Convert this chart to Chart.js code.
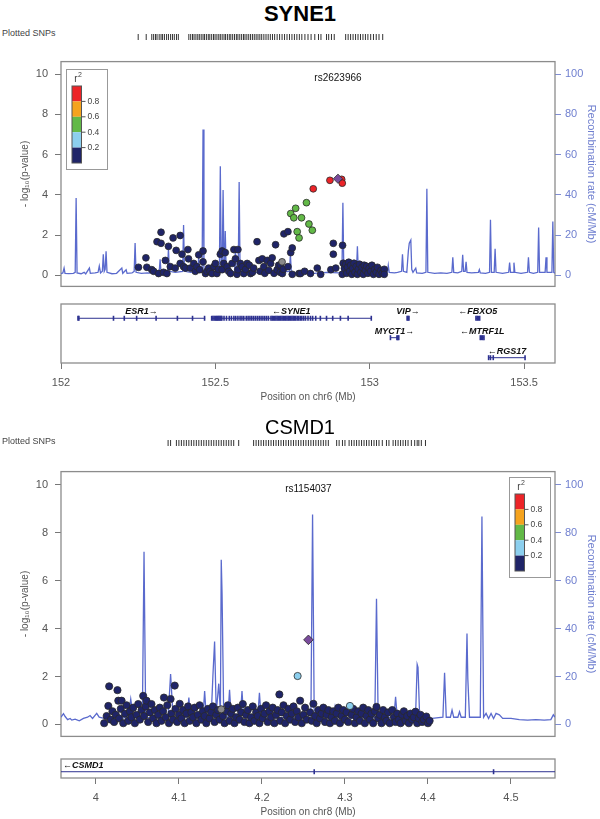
<!DOCTYPE html>
<html>
<head>
<meta charset="utf-8">
<script src="https://cdn.jsdelivr.net/npm/chart.js@4.4.0/dist/chart.umd.min.js"></script>
<style>
    body { margin: 0; background: #fff; width: 600px; height: 819px; position: relative; overflow: hidden; font-family: "Liberation Sans", Arial, sans-serif; }
    canvas, .t { position: absolute; left: 0; }
    .title { width: 600px; text-align: center; color: #000; line-height: 23px; }
    .rugLbl { left: 2px; font-size: 9px; line-height: 11px; color: #444; }
</style>
</head>
<body>
<div class="t title" style="top:2px;font-size:22px;font-weight:bold;">SYNE1</div>
<div class="t rugLbl" style="top:28px">Plotted SNPs</div>
<canvas id="rugTop" width="600" height="20" style="top:27px"></canvas>
<canvas id="mainTop" width="600" height="252" style="top:48px"></canvas>
<canvas id="geneTop" width="600" height="110" style="top:296px"></canvas>

<div class="t title" style="top:416px;font-size:20px;">CSMD1</div>
<div class="t rugLbl" style="top:436px">Plotted SNPs</div>
<canvas id="rugBot" width="600" height="20" style="top:433px"></canvas>
<canvas id="mainBot" width="600" height="292" style="top:458px"></canvas>
<canvas id="geneBot" width="600" height="68" style="top:751px"></canvas>

<script>
// ---- shared ----
const r2Colors = ['#1f2468', '#8ccfee', '#62b947', '#f5a31e', '#ec2428'];
const r2Labels = ['0.2', '0.4', '0.6', '0.8'];
const pTicks = [0, 2, 4, 6, 8, 10];
const recombTicks = [0, 20, 40, 60, 80, 100];

// ---- SYNE1 (chr6) ----
const topRange = [152, 153.6];
const topXTicks = [152, 152.5, 153, 153.5];
const topLead = { name: 'rs2623966', pos: 152.897, logp: 4.80 };
const topNavy = [
    [152.251,0.40],[152.275,0.87],[152.278,0.40],[152.294,0.28],[152.300,0.20],[152.311,1.67],[152.316,0.09],
    [152.324,2.14],[152.324,1.59],[152.332,0.15],[152.338,0.74],[152.343,0.09],[152.348,1.44],[152.354,0.43],
    [152.363,1.86],[152.370,0.36],[152.373,1.24],[152.386,1.98],[152.386,0.59],[152.392,1.05],[152.397,0.43],
    [152.403,0.36],[152.411,1.28],[152.413,0.82],[152.419,0.36],[152.430,0.59],[152.435,0.20],[152.440,0.43],
    [152.446,1.02],[152.449,0.28],[152.460,1.21],[152.460,0.67],[152.468,0.09],[152.473,0.20],[152.478,0.36],
    [152.483,0.20],[152.489,0.09],[152.495,0.43],[152.500,0.59],[152.505,0.09],[152.510,0.30],[152.516,1.05],
    [152.522,1.21],[152.522,0.28],[152.527,0.59],[152.532,1.13],[152.538,0.43],[152.543,0.20],[152.549,0.09],
    [152.554,0.59],[152.560,1.28],[152.565,0.82],[152.570,0.05],[152.573,1.28],[152.573,0.28],[152.581,0.59],
    [152.587,0.43],[152.592,0.09],[152.598,0.30],[152.603,0.59],[152.610,0.50],[152.614,0.09],[152.620,0.15],
    [152.624,0.36],[152.635,1.67],[152.641,0.74],[152.645,0.20],[152.652,0.82],[152.657,0.43],[152.660,0.10],
    [152.668,0.74],[152.673,0.25],[152.679,0.59],[152.684,0.87],[152.690,0.10],[152.695,1.52],[152.700,0.28],
    [152.705,0.50],[152.710,0.15],[152.711,0.51],[152.717,0.09],[152.720,0.30],[152.722,2.06],[152.735,2.17],
    [152.735,0.43],[152.744,1.13],[152.749,1.36],[152.749,0.05],[152.771,0.09],[152.776,0.09],[152.789,0.20],
    [152.808,0.09],[152.830,0.36],[152.841,0.05],[152.874,0.28],[152.882,1.59],[152.882,1.05],[152.890,0.36],
    [152.911,0.05],[152.912,1.49],[152.914,0.60],[152.918,0.35],[152.922,0.55],[152.925,0.10],[152.928,0.40],
    [152.932,0.65],[152.935,0.20],[152.938,0.50],[152.942,0.05],[152.945,0.35],[152.949,0.60],[152.952,0.15],
    [152.956,0.45],[152.960,0.05],[152.963,0.30],[152.967,0.55],[152.971,0.15],[152.975,0.40],[152.979,0.05],
    [152.982,0.50],[152.986,0.25],[152.990,0.45],[152.994,0.10],[152.998,0.35],[153.003,0.20],[153.007,0.50],
    [153.012,0.05],[153.016,0.30],[153.021,0.15],[153.025,0.40],[153.030,0.05],[153.036,0.25],[153.041,0.10],
    [153.047,0.30],[153.047,0.05]
];
const topGreen = [
    [152.744,3.07],[152.760,3.33],[152.754,2.86],[152.779,2.86],[152.795,3.61],[152.803,2.55],[152.814,2.24],
    [152.765,2.17],[152.771,1.86]
];
const topRed = [[152.817,4.30],[152.871,4.72],[152.909,4.77],[152.911,4.58]];
const topGray = [[152.716,0.67]];
const topRecombPos = [
    152.000,152.006,152.010,152.013,152.025,152.040,152.046,152.049,152.052,152.065,152.075,152.080,152.092,152.095,
    152.110,152.120,152.124,152.128,152.134,152.137,152.140,152.143,152.146,152.149,152.165,152.180,152.197,152.200,
    152.211,152.214,152.230,152.237,152.240,152.243,152.260,152.280,152.300,152.318,152.321,152.324,152.345,152.348,
    152.351,152.370,152.394,152.397,152.400,152.420,152.443,152.446,152.449,152.457,152.460,152.463,152.480,152.500,
    152.513,152.516,152.519,152.522,152.525,152.528,152.530,152.532,152.535,152.550,152.562,152.565,152.568,152.574,
    152.577,152.580,152.600,152.630,152.660,152.700,152.740,152.743,152.746,152.780,152.820,152.860,152.900,152.910,
    152.913,152.916,152.930,152.957,152.960,152.963,152.990,153.010,153.030,153.040,153.057,153.060,153.063,153.080,
    153.090,153.103,153.106,153.109,153.120,153.125,153.128,153.133,153.136,153.140,153.149,153.152,153.170,153.182,
    153.185,153.188,153.210,153.230,153.250,153.266,153.269,153.272,153.285,153.298,153.301,153.304,153.309,153.312,
    153.315,153.330,153.352,153.355,153.358,153.375,153.388,153.391,153.394,153.403,153.406,153.409,153.430,153.450,
    153.453,153.456,153.464,153.467,153.470,153.490,153.511,153.514,153.517,153.530,153.544,153.547,153.550,153.568,
    153.571,153.574,153.590,153.593,153.596,153.600
];
const topRecombRate = [
    0.8,1.2,3.6,1.0,0.8,1.0,1.5,38.4,1.2,0.8,1.5,0.7,3.6,1.0,
    1.2,1.5,4.6,1.2,2,10.5,2,3,12,1.5,0.8,1.0,3.6,1.0,
    2.8,1.0,1.2,2,16,1.5,1.0,1.2,1.0,1.5,8,1.5,2,13.6,
    2,1.5,2,25,2,1.5,2,9,1.5,1.5,72.4,1.5,1.0,1.5,
    2,54.2,4,3,42.4,3,5,22,2,1.5,2,13.6,2,2,
    46.4,2,1.2,1.5,1.2,1.5,2,10.5,1.5,1.2,1.0,1.5,1.2,2,
    36,2,1.2,2,14.4,2,1.2,1.0,1.5,1.0,1.5,5,1.5,1.2,
    1.5,2,10.5,2,1.5,12,16,17.5,3,1.5,3.6,1.2,1.0,1.5,
    43,1.5,1.0,1.2,1.0,1.5,9,1.5,1.2,2,10.2,2,2,6.7,
    1.5,1.2,1.5,2.8,1.2,1.0,1.5,27.6,1.5,1.5,13.2,1.5,1.0,1.5,
    6.3,1.5,1.5,6.3,1.5,1.0,1.5,9,1.5,1.0,1.5,23.7,1.5,1.5,
    9,1.5,1.5,26.8,1.5,1.0
];
const topRug = [
    152.250,152.276,152.294,152.300,152.306,152.311,152.318,152.324,152.329,152.335,152.342,152.348,152.355,152.361,
    152.367,152.374,152.380,152.414,152.420,152.426,152.431,152.437,152.443,152.448,152.454,152.460,152.465,152.471,
    152.477,152.482,152.488,152.494,152.499,152.505,152.511,152.516,152.522,152.528,152.533,152.539,152.545,152.550,
    152.556,152.562,152.568,152.573,152.579,152.585,152.591,152.596,152.602,152.608,152.614,152.620,152.626,152.632,
    152.638,152.644,152.650,152.657,152.664,152.671,152.678,152.685,152.692,152.700,152.708,152.716,152.724,152.732,
    152.740,152.748,152.756,152.764,152.772,152.780,152.790,152.800,152.810,152.822,152.834,152.842,152.860,152.867,
    152.876,152.885,152.922,152.930,152.938,152.946,152.954,152.962,152.970,152.978,152.986,152.994,153.003,153.012,
    153.021,153.030,153.042
];
const topGenes = ['ESR1', 'SYNE1', 'VIP', 'MYCT1', 'FBXO5', 'MTRF1L', 'RGS17'];
const topGeneStart = [152.055, 152.486, 153.121, 153.067, 153.344, 153.358, 153.385];
const topGeneEnd = [152.467, 153.006, 153.127, 153.094, 153.356, 153.370, 153.504];
const topGeneRow = [0, 0, 0, 1, 0, 1, 2];
const topGeneStrand = ['+', '-', '+', '+', '-', '-', '-'];
const topGeneExons = [
    [152.055,152.058,152.170,152.205,152.245,152.308,152.377,152.426,152.465],
    [152.488,152.492,152.496,152.500,152.503,152.506,152.509,152.512,152.515,152.518,152.521,152.528,152.536,152.545,
     152.552,152.560,152.566,152.573,152.580,152.586,152.592,152.600,152.606,152.612,152.618,152.624,152.630,152.636,
     152.642,152.648,152.654,152.660,152.666,152.672,152.680,152.684,152.688,152.692,152.696,152.700,152.704,152.708,
     152.712,152.716,152.720,152.724,152.728,152.732,152.736,152.740,152.744,152.748,152.752,152.756,152.760,152.765,
     152.770,152.775,152.780,152.786,152.792,152.800,152.808,152.815,152.825,152.840,152.860,152.880,152.905,152.930,153.005],
    [153.121,153.124,153.127],
    [153.067,153.088,153.091,153.094],
    [153.344,153.348,153.352,153.356],
    [153.358,153.362,153.366,153.370],
    [153.385,153.391,153.400,153.503]
];

// ---- CSMD1 (chr8) ----
const botRange = [3.958, 4.553];
const botXTicks = [4, 4.1, 4.2, 4.3, 4.4, 4.5];
const botLead = { name: 'rs1154037', pos: 4.256, logp: 3.53 };
const botNavy = [
    [4.010,0.05],[4.013,0.35],[4.015,0.77],[4.016,1.59],[4.018,0.20],[4.020,0.55],[4.022,0.10],[4.024,0.40],[4.026,1.43],
    [4.027,0.99],[4.028,0.25],[4.030,0.65],[4.031,0.99],[4.033,0.05],[4.035,0.45],[4.037,0.80],[4.039,0.15],[4.041,0.55],
    [4.043,0.30],[4.045,0.70],[4.047,0.05],[4.049,0.40],[4.051,0.85],[4.053,0.20],[4.055,0.60],[4.057,1.19],[4.058,0.35],
    [4.060,0.75],[4.061,0.99],[4.063,0.10],[4.065,0.50],[4.067,0.85],[4.069,0.25],[4.071,0.60],[4.073,0.05],[4.075,0.40],
    [4.077,0.70],[4.079,0.15],[4.081,0.55],[4.082,1.12],[4.084,0.30],[4.086,0.80],[4.088,0.05],[4.090,1.06],[4.091,0.45],
    [4.093,0.20],[4.095,1.62],[4.096,0.65],[4.098,0.10],[4.100,0.40],[4.101,0.86],[4.103,0.25],[4.105,0.60],[4.107,0.05],
    [4.109,0.45],[4.111,0.75],[4.113,0.15],[4.115,0.50],[4.117,0.30],[4.119,0.70],[4.121,0.05],[4.123,0.40],[4.125,0.80],
    [4.127,0.20],[4.129,0.55],[4.131,0.35],[4.133,0.05],[4.135,0.65],[4.137,0.25],[4.139,0.50],[4.141,0.75],[4.143,0.10],
    [4.145,0.40],[4.147,0.60],[4.149,0.20],[4.153,0.35],[4.155,0.05],[4.157,0.55],[4.159,0.80],[4.161,0.15],[4.163,0.45],
    [4.165,0.65],[4.167,0.05],[4.169,0.30],[4.171,0.70],[4.173,0.20],[4.175,0.50],[4.177,0.85],[4.179,0.10],[4.181,0.40],
    [4.183,0.60],[4.185,0.05],[4.187,0.30],[4.189,0.75],[4.191,0.15],[4.193,0.50],[4.195,0.35],[4.197,0.05],[4.199,0.65],
    [4.201,0.25],[4.203,0.45],[4.205,0.80],[4.207,0.10],[4.209,0.55],[4.211,0.30],[4.213,0.70],[4.215,0.05],[4.217,0.40],
    [4.219,0.60],[4.221,1.25],[4.222,0.15],[4.224,0.50],[4.226,0.80],[4.228,0.05],[4.230,0.35],[4.232,0.65],[4.234,0.20],
    [4.236,0.45],[4.238,0.75],[4.240,0.10],[4.242,0.55],[4.244,0.30],[4.246,0.99],[4.248,0.05],[4.250,0.40],[4.252,0.70],
    [4.254,0.20],[4.258,0.50],[4.260,0.15],[4.262,0.86],[4.264,0.35],[4.266,0.05],[4.268,0.60],[4.270,0.25],[4.272,0.45],
    [4.274,0.70],[4.276,0.10],[4.278,0.40],[4.280,0.60],[4.282,0.05],[4.284,0.30],[4.286,0.55],[4.288,0.15],[4.290,0.45],
    [4.292,0.70],[4.294,0.05],[4.296,0.35],[4.298,0.60],[4.300,0.20],[4.302,0.50],[4.304,0.10],[4.308,0.40],[4.310,0.65],
    [4.312,0.05],[4.314,0.30],[4.316,0.55],[4.318,0.15],[4.320,0.45],[4.322,0.70],[4.324,0.05],[4.326,0.35],[4.328,0.60],
    [4.330,0.20],[4.332,0.45],[4.334,0.05],[4.336,0.55],[4.338,0.73],[4.340,0.25],[4.342,0.40],[4.344,0.05],[4.346,0.60],
    [4.348,0.30],[4.350,0.15],[4.352,0.50],[4.354,0.05],[4.357,0.60],[4.359,0.30],[4.361,0.10],[4.363,0.45],[4.365,0.20],
    [4.367,0.05],[4.369,0.40],[4.371,0.55],[4.373,0.15],[4.375,0.35],[4.377,0.05],[4.379,0.45],[4.381,0.20],[4.383,0.30],
    [4.385,0.53],[4.387,0.05],[4.389,0.25],[4.391,0.40],[4.393,0.10],[4.395,0.20],[4.398,0.33],[4.400,0.05],[4.402,0.15]
];
const botLightBlue = [[4.243,2.02],[4.306,0.77]];
const botGray = [[4.151,0.63]];
const botRecombPos = [
    3.958,3.961,3.963,3.966,3.969,3.971,3.975,3.980,3.985,3.990,3.993,3.996,4.001,4.004,4.010,4.020,4.030,4.039,4.042,
    4.045,4.050,4.056,4.058,4.060,4.070,4.080,4.087,4.090,4.093,4.100,4.110,4.112,4.114,4.120,4.129,4.131,4.133,4.139,
    4.141,4.143,4.145,4.148,4.150,4.151,4.152,4.154,4.159,4.161,4.163,4.170,4.174,4.176,4.178,4.190,4.195,4.197,4.199,
    4.210,4.230,4.250,4.259,4.261,4.263,4.275,4.286,4.288,4.290,4.310,4.320,4.336,4.338,4.340,4.359,4.361,4.363,4.375,
    4.385,4.387,4.388,4.390,4.405,4.418,4.420,4.422,4.427,4.429,4.431,4.436,4.438,4.440,4.445,4.447,4.448,4.450,4.458,
    4.463,4.465,4.467,4.470,4.473,4.476,4.479,4.482,4.486,4.490,4.500,4.510,4.520,4.530,4.540,4.548,4.551,4.553
];
const botRecombRate = [
    3,4.5,3.3,2,2.5,1.8,2.2,1.5,2.5,3,3.7,2.5,4.6,3,2.5,3,2.5,3,10.6,
    3,3.5,3,72,3,2.5,3,3,21,3,2.5,3,11.2,3,2.5,3,13.9,3,4,
    20.5,34.6,5,17,5,68.7,54.4,3,3,14.5,3,2.5,3,13.9,3,2.5,3,13.2,3,
    2.5,3,2.5,3,87.6,3,2.5,3,7.3,3,2.5,3,3,52.4,3,3,11.5,3,2.5,
    3,25,23.8,3,2.5,3,21.5,3,3,6,3,3,5.3,3,3,37.9,19,3,3,
    3,86.8,3,4.6,2.5,4.6,2.5,4.6,4,2.5,2.5,2,1.8,2,1.8,2,4,3
];
const botRug = [
    4.087,4.090,4.097,4.100,4.103,4.106,4.109,4.112,4.115,4.118,4.121,4.124,4.127,4.130,4.133,4.136,4.139,4.142,4.145,
    4.148,4.151,4.154,4.157,4.160,4.163,4.166,4.172,4.190,4.193,4.196,4.199,4.202,4.205,4.208,4.211,4.214,4.217,4.220,
    4.223,4.226,4.229,4.232,4.235,4.238,4.241,4.244,4.247,4.250,4.253,4.256,4.259,4.262,4.265,4.268,4.271,4.274,4.277,
    4.280,4.290,4.293,4.297,4.300,4.305,4.308,4.311,4.314,4.317,4.320,4.323,4.326,4.329,4.332,4.335,4.338,4.341,4.345,
    4.350,4.353,4.358,4.361,4.364,4.367,4.370,4.373,4.376,4.380,4.384,4.387,4.389,4.392,4.397
];
const botGenes = ['CSMD1'];
const botGeneStart = [2.790];
const botGeneEnd = [4.850];
const botGeneRow = [0];
const botGeneStrand = ['-'];
const botGeneExons = [[4.263, 4.479]];

// ---- helpers ----
Chart.defaults.font.family = '"Liberation Sans", Arial, sans-serif';
Chart.defaults.animation = false;
Chart.defaults.plugins.legend.display = false;
Chart.defaults.plugins.tooltip.enabled = false;

const pts = a => a.map(([x, y]) => ({ x, y }));
const fixTicks = vals => s => { s.ticks = vals.map(v => ({ value: v })); };

const framePlugin = {
    id: 'frame',
    beforeDatasetsDraw(chart, args, opts) {
        if (!opts.show) return;
        const a = chart.chartArea, c = chart.ctx;
        c.save();
        c.strokeStyle = '#8c8c8c';
        c.lineWidth = 1.3;
        c.strokeRect(a.left, a.top, a.right - a.left, a.bottom - a.top);
        c.restore();
    }
};

const r2LegendPlugin = {
    id: 'r2Legend',
    afterDatasetsDraw(chart, args, opts) {
        if (!opts.corner) return;
        const a = chart.chartArea, c = chart.ctx;
        const w = 41, h = 100;
        const bx = Math.round(opts.corner === 'left' ? a.left + 5 : a.right - 5 - w);
        const by = Math.round(a.top + opts.top);
        c.save();
        c.fillStyle = '#fff';
        c.fillRect(bx, by, w, h);
        c.strokeStyle = '#999';
        c.lineWidth = 1;
        c.strokeRect(bx + 0.5, by + 0.5, w, h);
        c.fillStyle = '#444';
        c.textAlign = 'center';
        c.textBaseline = 'middle';
        c.font = '10px "Liberation Sans"';
        c.fillText('r', bx + 10, by + 10);
        c.font = '7px "Liberation Sans"';
        c.fillText('2', bx + 14, by + 6);
        const segH = 15.4, barX = bx + 6, barW = 9.5, barTop = by + 17;
        for (let i = 0; i < 5; i++) {
            c.fillStyle = r2Colors[4 - i];
            c.fillRect(barX, barTop + i * segH, barW, segH);
        }
        c.strokeStyle = '#555';
        c.strokeRect(barX, barTop, barW, 5 * segH);
        c.font = '8.5px "Liberation Sans"';
        c.textAlign = 'left';
        c.fillStyle = '#444';
        for (let i = 1; i < 5; i++) {
            const y = barTop + i * segH;
            c.beginPath();
            c.moveTo(barX + barW, y);
            c.lineTo(barX + barW + 4, y);
            c.stroke();
            c.fillText(r2Labels[4 - i], barX + barW + 6, y);
        }
        c.restore();
    }
};

const leadLabelPlugin = {
    id: 'leadLabel',
    afterDatasetsDraw(chart, args, opts) {
        if (!opts.text) return;
        const c = chart.ctx;
        c.save();
        c.fillStyle = '#111';
        c.font = '10px "Liberation Sans"';
        c.textAlign = 'center';
        c.textBaseline = 'middle';
        c.fillText(opts.text, chart.scales.x.getPixelForValue(opts.pos), chart.scales.y.getPixelForValue(opts.y));
        c.restore();
    }
};

const geneLabelPlugin = {
    id: 'geneLabels',
    afterDatasetsDraw(chart, args, opts) {
        if (!opts.names) return;
        const a = chart.chartArea, c = chart.ctx, xs = chart.scales.x, ys = chart.scales.y;
        c.save();
        c.fillStyle = '#111';
        c.font = 'italic bold 9px "Liberation Sans"';
        c.textBaseline = 'middle';
        opts.names.forEach((n, i) => {
            const txt = opts.strand[i] === '+' ? n + '\u2192' : '\u2190' + n;
            const wTxt = c.measureText(txt).width;
            let cx = xs.getPixelForValue((opts.start[i] + opts.end[i]) / 2);
            cx = Math.max(a.left + 2 + wTxt / 2, Math.min(a.right - 2 - wTxt / 2, cx));
            c.textAlign = 'center';
            c.fillText(txt, cx, ys.getPixelForValue(opts.rows[opts.row[i]]) - 6.5);
        });
        c.restore();
    }
};

Chart.register(framePlugin, r2LegendPlugin, leadLabelPlugin, geneLabelPlugin);

function rugChart(id, range, rug) {
    new Chart(document.getElementById(id), {
        type: 'scatter',
        data: {
            datasets: [{
                data: rug.map(x => ({ x, y: 0.5 })),
                pointStyle: 'line', pointRotation: 90, pointRadius: 6,
                pointBorderColor: '#333', pointBorderWidth: 1
            }]
        },
        options: {
            responsive: false,
            layout: { padding: { left: 61, right: 45, top: 0, bottom: 0 } },
            scales: {
                x: { type: 'linear', min: range[0], max: range[1], display: false },
                y: { min: 0, max: 1, display: false }
            }
        }
    });
}

function mainChart(id, cfg) {
    const pointDs = (arr, color, order, style, radius) => ({
        data: pts(arr), backgroundColor: color, borderColor: '#2a2a2a', borderWidth: 0.8,
        pointStyle: style || 'circle', pointRadius: radius || cfg.r, order
    });
    const datasets = [
        {
            type: 'line', data: cfg.recombPos.map((x, i) => ({ x, y: cfg.recombRate[i] })),
            yAxisID: 'yR', borderColor: '#5a6acd', borderWidth: 1.3, pointRadius: 0, tension: 0, order: 20
        },
        pointDs(cfg.navy, r2Colors[0], 10),
        pointDs(cfg.gray, '#8a8a8a', 9)
    ];
    if (cfg.lightBlue) datasets.push(pointDs(cfg.lightBlue, r2Colors[1], 5));
    if (cfg.green) datasets.push(pointDs(cfg.green, r2Colors[2], 4));
    if (cfg.red) datasets.push(pointDs(cfg.red, r2Colors[4], 3));
    datasets.push(pointDs([[cfg.lead.pos, cfg.lead.logp]], '#7a4b9c', 1, 'rectRot', cfg.r + 1.2));

    new Chart(document.getElementById(id), {
        type: 'scatter',
        data: { datasets },
        options: {
            responsive: false,
            layout: { padding: { left: 0, right: 0, top: cfg.padTop, bottom: cfg.padBottom } },
            plugins: {
                frame: { show: true },
                r2Legend: { corner: cfg.legendCorner, top: cfg.legendTop },
                leadLabel: { text: cfg.lead.name, pos: cfg.lead.pos, y: 9.8 }
            },
            scales: {
                x: { type: 'linear', min: cfg.range[0], max: cfg.range[1], display: false },
                y: {
                    position: 'left', min: cfg.yMin, max: cfg.yMax,
                    afterFit: s => { s.width = 61; },
                    afterBuildTicks: fixTicks(pTicks),
                    ticks: { color: '#555', font: { size: 11 }, padding: 7, autoSkip: false, callback: v => String(v) },
                    grid: { drawOnChartArea: false, tickLength: 6, color: '#777' },
                    border: { display: false },
                    title: { display: true, text: '- log\u2081\u2080(p-value)', color: '#555', font: { size: 10 }, padding: { top: 19, bottom: 0 } }
                },
                yR: {
                    position: 'right', min: cfg.yMin * 10, max: cfg.yMax * 10,
                    afterFit: s => { s.width = 45; },
                    afterBuildTicks: fixTicks(recombTicks),
                    ticks: { color: '#6f7fcf', font: { size: 11 }, padding: 4, autoSkip: false, callback: v => String(v) },
                    grid: { drawOnChartArea: false, tickLength: 6, color: '#7f8dd4' },
                    border: { display: false },
                    title: { display: true, text: 'Recombination rate (cM/Mb)', color: '#6f7fcf', font: { size: 11 }, padding: { top: 2, bottom: 0 } }
                }
            }
        }
    });
}

function geneChart(id, cfg) {
    const datasets = [];
    cfg.names.forEach((n, i) => {
        const y = cfg.rows[cfg.row[i]];
        datasets.push({
            data: [{ x: cfg.start[i], y }, { x: cfg.end[i], y }],
            showLine: true, borderColor: '#2d3190', borderWidth: 1, pointRadius: 0
        });
        datasets.push({
            data: cfg.exons[i].map(x => ({ x, y })),
            pointStyle: 'line', pointRotation: 90, pointRadius: 2.5,
            pointBorderColor: '#2d3190', pointBorderWidth: 1.6
        });
    });
    new Chart(document.getElementById(id), {
        type: 'scatter',
        data: { datasets },
        options: {
            responsive: false,
            layout: { padding: { left: 61, right: 45, top: 8, bottom: 0 } },
            plugins: {
                frame: { show: true },
                geneLabels: { names: cfg.names, start: cfg.start, end: cfg.end, row: cfg.row, strand: cfg.strand, rows: cfg.rows }
            },
            scales: {
                x: {
                    type: 'linear', min: cfg.range[0], max: cfg.range[1], position: 'bottom',
                    afterFit: s => { s.height = cfg.axisH; },
                    afterBuildTicks: fixTicks(cfg.ticks),
                    ticks: { color: '#555', font: { size: 11 }, padding: 7, maxRotation: 0, autoSkip: false, callback: v => String(v) },
                    grid: { drawOnChartArea: false, tickLength: 6, color: '#777' },
                    border: { display: false },
                    title: { display: true, text: cfg.xTitle, color: '#555', font: { size: 10 }, padding: { top: 0, bottom: cfg.titlePad } }
                },
                y: { min: 0, max: 1, reverse: true, display: false }
            }
        }
    });
}

// ---- SYNE1 ----
rugChart('rugTop', topRange, topRug);
mainChart('mainTop', {
    range: topRange, yMin: -0.55, yMax: 10.62, padTop: 5, padBottom: 7, r: 3.4,
    navy: topNavy, gray: topGray, green: topGreen, red: topRed, lead: topLead,
    recombPos: topRecombPos, recombRate: topRecombRate,
    legendCorner: 'left', legendTop: 7
});
geneChart('geneTop', {
    range: topRange, ticks: topXTicks, xTitle: 'Position on chr6 (Mb)', axisH: 43, titlePad: 3,
    names: topGenes, start: topGeneStart, end: topGeneEnd, row: topGeneRow, strand: topGeneStrand,
    exons: topGeneExons, rows: [0.242, 0.571, 0.91]
});

// ---- CSMD1 ----
rugChart('rugBot', botRange, botRug);
mainChart('mainBot', {
    range: botRange, yMin: -0.5, yMax: 10.55, padTop: 9, padBottom: 4, r: 3.6,
    navy: botNavy, gray: botGray, lightBlue: botLightBlue, lead: botLead,
    recombPos: botRecombPos, recombRate: botRecombRate,
    legendCorner: 'right', legendTop: 5
});
geneChart('geneBot', {
    range: botRange, ticks: botXTicks, xTitle: 'Position on chr8 (Mb)', axisH: 41, titlePad: 1,
    names: botGenes, start: botGeneStart, end: botGeneEnd, row: botGeneRow, strand: botGeneStrand,
    exons: botGeneExons, rows: [0.67]
});
</script>
</body>
</html>
